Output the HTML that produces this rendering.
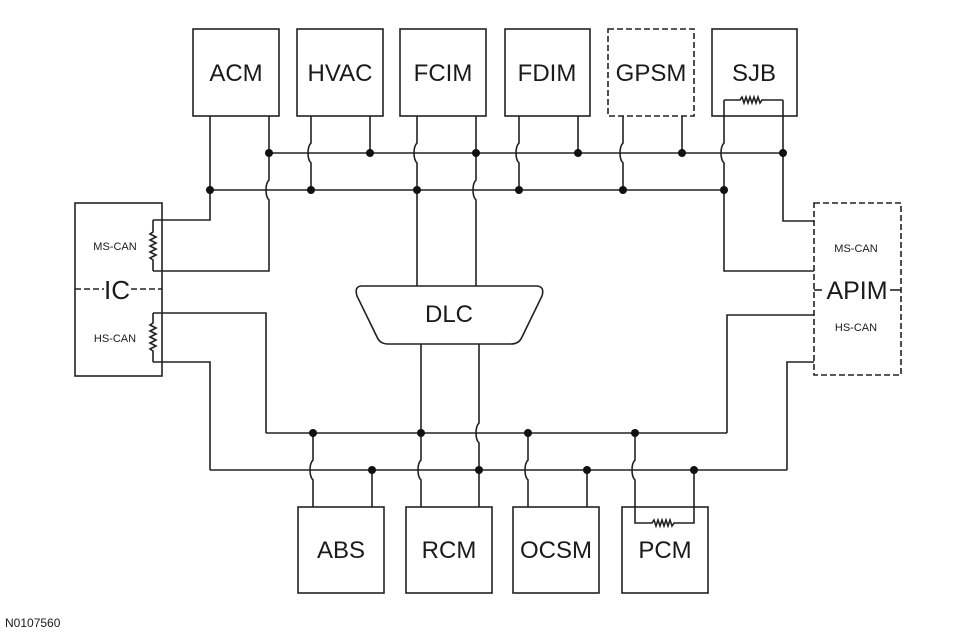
<!DOCTYPE html>
<html><head><meta charset="utf-8"><style>
html,body{margin:0;padding:0;background:#fff;}
svg{display:block;}
text{font-family:"Liberation Sans",Arial,sans-serif;fill:#1a1a1a;}
</style></head><body>
<svg width="975" height="639" viewBox="0 0 975 639" xmlns="http://www.w3.org/2000/svg">
<g fill="none" stroke="#222" stroke-width="1.6">
<!-- top boxes -->
<rect x="193" y="29" width="86" height="87"/>
<rect x="297" y="29" width="86" height="87"/>
<rect x="400" y="29" width="86" height="87"/>
<rect x="505" y="29" width="85" height="87"/>
<rect x="608" y="29" width="86" height="87" stroke-dasharray="6,3"/>
<rect x="712" y="29" width="85" height="87"/>
<!-- IC and APIM -->
<rect x="75" y="203" width="87" height="173"/>
<rect x="814" y="203" width="87" height="172" stroke-dasharray="6,3"/>
<!-- bottom boxes -->
<rect x="298" y="507" width="86" height="86"/>
<rect x="406" y="507" width="86" height="86"/>
<rect x="513" y="507" width="86" height="86"/>
<rect x="622" y="507" width="86" height="86"/>
<!-- DLC -->
<path d="M362 286 H536 Q545 286 542 296 L522 337 Q519 344 511 344 H388 Q380 344 377 337 L357 296 Q354 286 362 286 Z"/>
<!-- buses -->
<path d="M269 153 H784"/>
<path d="M210 190 H725"/>
<path d="M266 433 H727"/>
<path d="M210 470 H787"/>
<!-- top wires -->
<path d="M210 116 V220 H153"/>
<path d="M269 116 V180 C265 184 265 196 269 200 V271 H153"/>
<path d="M311 116 V143 C307 147 307 159 311 163 V190"/>
<path d="M370 116 V153"/>
<path d="M417 116 V143 C413 147 413 159 417 163 V286"/>
<path d="M476 116 V180 C472 184 472 196 476 200 V286"/>
<path d="M519 116 V143 C515 147 515 159 519 163 V190"/>
<path d="M578 116 V153"/>
<path d="M623 116 V143 C619 147 619 159 623 163 V190"/>
<path d="M682 116 V153"/>
<path d="M724 100 V143 C720 147 720 159 724 163 V271 H814"/>
<path d="M783 100 V221 H814"/>
<path d="M724 100 H740 l2 -3 l2 6 l2 -6 l2 6 l2 -6 l2 6 l2 -6 l2 6 l2 -6 l2 6 l2 -3 H783"/>
<!-- IC resistors -->
<path d="M153 220 V232 l-3 2 l6 3 l-6 3 l6 3 l-6 3 l6 3 l-6 3 l6 3 l-6 3 l3 2 V271"/>
<path d="M153 313 V323 l-3 2 l6 3 l-6 3 l6 3 l-6 3 l6 3 l-6 3 l6 3 l-6 3 l3 2 V362"/>
<!-- HS wires -->
<path d="M153 313 H266 V433"/>
<path d="M153 362 H210 V470"/>
<path d="M727 433 V315 H814"/>
<path d="M787 470 V362 H814"/>
<!-- IC / APIM label dashes -->
<path d="M75 289 H104" stroke-dasharray="6,3"/>
<path d="M131 289 H162" stroke-dasharray="6,3"/>
<path d="M814 290 H822"/>
<path d="M890 290 H901"/>
<!-- bottom wires -->
<path d="M313 433 V460 C309 464 309 476 313 480 V507"/>
<path d="M372 470 V507"/>
<path d="M421 344 V460 C417 464 417 476 421 480 V507"/>
<path d="M479 344 V423 C475 427 475 439 479 443 V507"/>
<path d="M528 433 V460 C524 464 524 476 528 480 V507"/>
<path d="M587 470 V507"/>
<path d="M635 433 V460 C631 464 631 476 635 480 V523 H652 l2 -3 l2 6 l2 -6 l2 6 l2 -6 l2 6 l2 -6 l2 6 l2 -6 l2 6 l2 -3 H694 V470"/>
</g>
<g fill="#111">
<circle cx="269" cy="153" r="4"/><circle cx="370" cy="153" r="4"/><circle cx="476" cy="153" r="4"/>
<circle cx="578" cy="153" r="4"/><circle cx="682" cy="153" r="4"/><circle cx="783" cy="153" r="4"/>
<circle cx="210" cy="190" r="4"/><circle cx="311" cy="190" r="4"/><circle cx="417" cy="190" r="4"/>
<circle cx="519" cy="190" r="4"/><circle cx="623" cy="190" r="4"/><circle cx="724" cy="190" r="4"/>
<circle cx="313" cy="433" r="4"/><circle cx="421" cy="433" r="4"/><circle cx="528" cy="433" r="4"/><circle cx="635" cy="433" r="4"/>
<circle cx="372" cy="470" r="4"/><circle cx="479" cy="470" r="4"/><circle cx="587" cy="470" r="4"/><circle cx="694" cy="470" r="4"/>
</g>
<g font-size="24" text-anchor="middle">
<text x="236" y="81">ACM</text>
<text x="340" y="81">HVAC</text>
<text x="443" y="81">FCIM</text>
<text x="547" y="81">FDIM</text>
<text x="651" y="81">GPSM</text>
<text x="754" y="81">SJB</text>
<text x="449" y="322">DLC</text>
<text x="341" y="558">ABS</text>
<text x="449" y="558">RCM</text>
<text x="556" y="558">OCSM</text>
<text x="665" y="558">PCM</text>
<text x="857" y="299" font-size="25">APIM</text>
<text x="117" y="299" font-size="26">IC</text>
</g>
<g font-size="11" text-anchor="middle">
<text x="115" y="250">MS-CAN</text>
<text x="115" y="342">HS-CAN</text>
<text x="856" y="252">MS-CAN</text>
<text x="856" y="331">HS-CAN</text>
</g>
<text x="5" y="627" font-size="12">N0107560</text>
</svg>
</body></html>
